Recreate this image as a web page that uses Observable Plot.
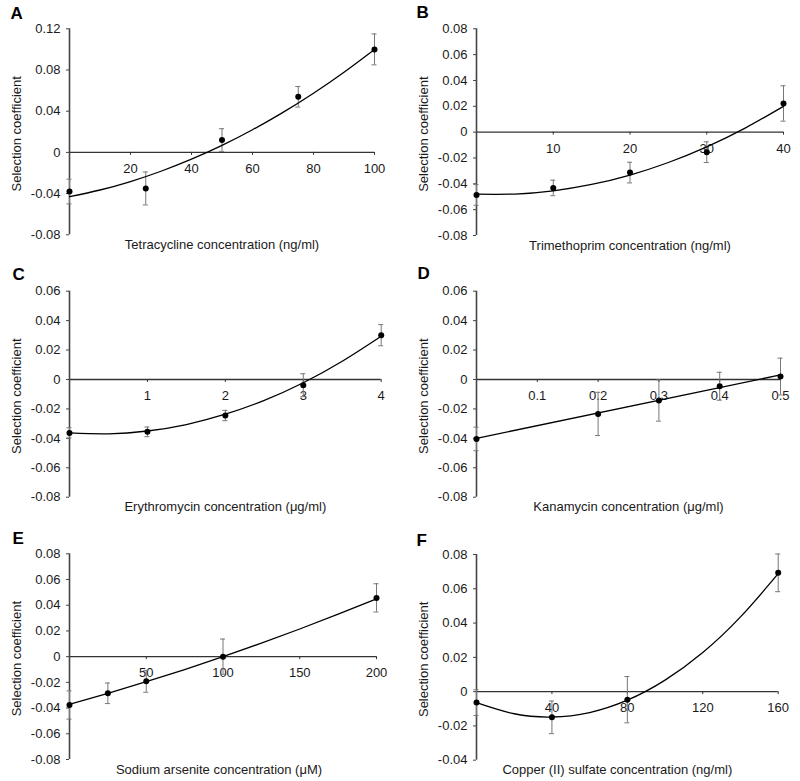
<!DOCTYPE html>
<html><head><meta charset="utf-8">
<script src="https://cdn.jsdelivr.net/npm/d3@7"></script>
<script src="https://cdn.jsdelivr.net/npm/@observablehq/plot@0.6"></script>
<style>
body{margin:0;background:#fff}
#wrap{position:relative;width:800px;height:781px;overflow:hidden}
.panel{position:absolute}
</style>
</head><body><div id="wrap"></div>
<script>
// ---- Panel A: Tetracycline
const tetX = [0, 25, 50, 75, 100];
const tetY = [-0.038, -0.035, 0.012, 0.054, 0.100];
const tetErr = [0.012, 0.016, 0.011, 0.010, 0.015];
const tetFitX = [0, 10, 20, 30, 40, 50, 60, 70, 80, 90, 100];
const tetFitY = [-0.043, -0.0365, -0.0283, -0.0183, -0.0066, 0.0068, 0.0220, 0.0389, 0.0575, 0.0779, 0.100];
const tetXTicks = [20, 40, 60, 80, 100];
const tetYTicks = [-0.08, -0.04, 0, 0.04, 0.08, 0.12];

// ---- Panel B: Trimethoprim
const triX = [0, 10, 20, 30, 40];
const triY = [-0.0486, -0.0432, -0.0313, -0.0155, 0.0222];
const triErr = [0.008, 0.006, 0.008, 0.008, 0.0137];
const triFitX = [0, 5, 10, 15, 20, 25, 30, 35, 40];
const triFitY = [-0.048, -0.0479, -0.0454, -0.0405, -0.0332, -0.0235, -0.0114, 0.0031, 0.020];
const triXTicks = [10, 20, 30, 40];
const triYTicks = [-0.08, -0.06, -0.04, -0.02, 0, 0.02, 0.04, 0.06, 0.08];

// ---- Panel C: Erythromycin
const eryX = [0, 1, 2, 3, 4];
const eryY = [-0.0363, -0.0356, -0.0245, -0.0039, 0.0301];
const eryErr = [0.0035, 0.0033, 0.0035, 0.0078, 0.0072];
const eryFitX = [0, 0.5, 1, 1.5, 2, 2.5, 3, 3.5, 4];
const eryFitY = [-0.0363, -0.0369, -0.0350, -0.0306, -0.0236, -0.0142, -0.0022, 0.0124, 0.0294];
const eryXTicks = [1, 2, 3, 4];
const eryYTicks = [-0.08, -0.06, -0.04, -0.02, 0, 0.02, 0.04, 0.06];

// ---- Panel D: Kanamycin
const kanX = [0, 0.2, 0.3, 0.4, 0.5];
const kanY = [-0.0404, -0.0234, -0.0143, -0.0046, 0.002];
const kanErr = [0.008, 0.0147, 0.014, 0.0095, 0.0125];
const kanFitX = [0, 0.5];
const kanFitY = [-0.040, 0.0031];
const kanXTicks = [0.1, 0.2, 0.3, 0.4, 0.5];
const kanYTicks = [-0.08, -0.06, -0.04, -0.02, 0, 0.02, 0.04, 0.06];

// ---- Panel E: Sodium arsenite
const arsX = [0, 25, 50, 100, 200];
const arsY = [-0.0376, -0.0285, -0.0192, 0.0, 0.0457];
const arsErr = [0.011, 0.0080, 0.0085, 0.0137, 0.011];
const arsFitX = [0, 25, 50, 75, 100, 125, 150, 175, 200];
const arsFitY = [-0.037, -0.0285, -0.0195, -0.0100, 0.0, 0.0105, 0.0215, 0.033, 0.045];
const arsXTicks = [50, 100, 150, 200];
const arsYTicks = [-0.08, -0.06, -0.04, -0.02, 0, 0.02, 0.04, 0.06, 0.08];

// ---- Panel F: Copper (II) sulfate
const cuX = [0, 40, 80, 160];
const cuY = [-0.0064, -0.015, -0.0047, 0.0693];
const cuErr = [0.0075, 0.0095, 0.0135, 0.011];
const cuFitX = [0, 20, 40, 60, 80, 100, 120, 140, 160];
const cuFitY = [-0.0064, -0.0129, -0.0148, -0.0122, -0.0050, 0.0067, 0.0228, 0.0436, 0.0688];
const cuXTicks = [40, 80, 120, 160];
const cuYTicks = [-0.04, -0.02, 0, 0.02, 0.04, 0.06, 0.08];

const yLabel = "Selection coefficient";

const panels = [
  {letter: "A", xLabel: "Tetracycline concentration (ng/ml)", x: tetX, y: tetY, err: tetErr, fx: tetFitX, fy: tetFitY, xt: tetXTicks, yt: tetYTicks, xd: [0, 100], yd: [-0.08, 0.12],
   left: 0, top: 0, h: 260, ml: 69, mr: 26, mt: 28.3, mb: 25.7, lx: 10, ly: 18, tdx: 0},
  {letter: "B", xLabel: "Trimethoprim concentration (ng/ml)", x: triX, y: triY, err: triErr, fx: triFitX, fy: triFitY, xt: triXTicks, yt: triYTicks, xd: [0, 40], yd: [-0.08, 0.08],
   left: 400, top: 0, h: 260, ml: 76, mr: 17, mt: 28.3, mb: 25, lx: 16, ly: 17, tdx: 0},
  {letter: "C", xLabel: "Erythromycin concentration (\u03bcg/ml)", x: eryX, y: eryY, err: eryErr, fx: eryFitX, fy: eryFitY, xt: eryXTicks, yt: eryYTicks, xd: [0, 4], yd: [-0.08, 0.06],
   left: 0, top: 260, h: 260, ml: 69, mr: 19.3, mt: 30.7, mb: 23.3, lx: 12, ly: 19, tdx: 0},
  {letter: "D", xLabel: "Kanamycin concentration (\u03bcg/ml)", x: kanX, y: kanY, err: kanErr, fx: kanFitX, fy: kanFitY, xt: kanXTicks, yt: kanYTicks, xd: [0, 0.5], yd: [-0.08, 0.06],
   left: 400, top: 260, h: 260, ml: 76, mr: 20, mt: 30.7, mb: 23.3, lx: 17, ly: 18, tdx: 0},
  {letter: "E", xLabel: "Sodium arsenite concentration (\u03bcM)", x: arsX, y: arsY, err: arsErr, fx: arsFitX, fy: arsFitY, xt: arsXTicks, yt: arsYTicks, xd: [0, 200], yd: [-0.08, 0.08],
   left: 0, top: 520, h: 261, ml: 69, mr: 24, mt: 33.3, mb: 22, lx: 12, ly: 23, tdx: -4},
  {letter: "F", xLabel: "Copper (II) sulfate concentration (ng/ml)", x: cuX, y: cuY, err: cuErr, fx: cuFitX, fy: cuFitY, xt: cuXTicks, yt: cuYTicks, xd: [0, 160], yd: [-0.04, 0.08],
   left: 400, top: 520, h: 261, ml: 76, mr: 22.3, mt: 34, mb: 21.3, lx: 16, ly: 25, tdx: -10}
];

const FONT = "'Liberation Sans', Arial, Helvetica, sans-serif";
const yFmt = d => d === 0 ? "0" : d.toFixed(2);

function build(p) {
  const pts = p.x.map((x, i) => ({x, y: p.y[i], e: p.err[i]}));
  const fit = p.fx.map((x, i) => ({x, y: p.fy[i]}));
  return Plot.plot({
    width: 400, height: p.h,
    marginLeft: p.ml, marginRight: p.mr, marginTop: p.mt, marginBottom: p.mb,
    x: {domain: p.xd, axis: null},
    y: {domain: p.yd, axis: null},
    style: {fontFamily: FONT, fontSize: "13px", color: "#1a1a1a", background: "transparent", overflow: "visible"},
    marks: [
      Plot.ruleY([0], {stroke: "#333", strokeWidth: 1.4}),
      Plot.ruleX(p.xt, {x: d => d, y1: 0, y2: 0, insetBottom: -3, stroke: "#333"}),
      Plot.text(p.xt, {x: d => d, y: 0, text: d => String(d), dy: 16.5, lineAnchor: "middle", fontSize: 13, fill: "#1a1a1a"}),
      Plot.axisY({ticks: p.yt, tickSize: 3, tickPadding: 6, tickFormat: yFmt, label: null, fontSize: 13, stroke: "#444", fill: "#1a1a1a"}),
      Plot.ruleX([0], {stroke: "#444", strokeWidth: 1.6}),
      Plot.ruleX(pts, {x: "x", y1: d => d.y - d.e, y2: d => d.y + d.e, stroke: "#777", strokeWidth: 1}),
      Plot.ruleY(pts, {y: d => d.y + d.e, x1: "x", x2: "x", insetLeft: -2.5, insetRight: -2.5, stroke: "#777"}),
      Plot.ruleY(pts, {y: d => d.y - d.e, x1: "x", x2: "x", insetLeft: -2.5, insetRight: -2.5, stroke: "#777"}),
      Plot.line(fit, {x: "x", y: "y", curve: "natural", stroke: "#000", strokeWidth: 1.3}),
      Plot.dot(pts, {x: "x", y: "y", r: 3, fill: "#000", stroke: "none"}),
      Plot.text([p.letter], {text: d => d, frameAnchor: "top-left", dx: p.lx - p.ml, dy: p.ly - p.mt, lineAnchor: "bottom", textAnchor: "start", fontSize: 17, fontWeight: "bold", fill: "#000"}),
      Plot.text([p.xLabel], {text: d => d, frameAnchor: "bottom", dx: p.tdx, dy: 14, lineAnchor: "bottom", textAnchor: "middle", fontSize: 13, fill: "#1a1a1a"}),
      Plot.text([yLabel], {text: d => d, frameAnchor: "left", rotate: -90, dx: -53, dy: 2, textAnchor: "middle", lineAnchor: "middle", fontSize: 13, fill: "#1a1a1a"})
    ]
  });
}

const wrap = document.getElementById("wrap");
for (const p of panels) {
  const div = document.createElement("div");
  div.className = "panel";
  div.style.left = p.left + "px";
  div.style.top = p.top + "px";
  div.appendChild(build(p));
  wrap.appendChild(div);
}
</script>
</body></html>
